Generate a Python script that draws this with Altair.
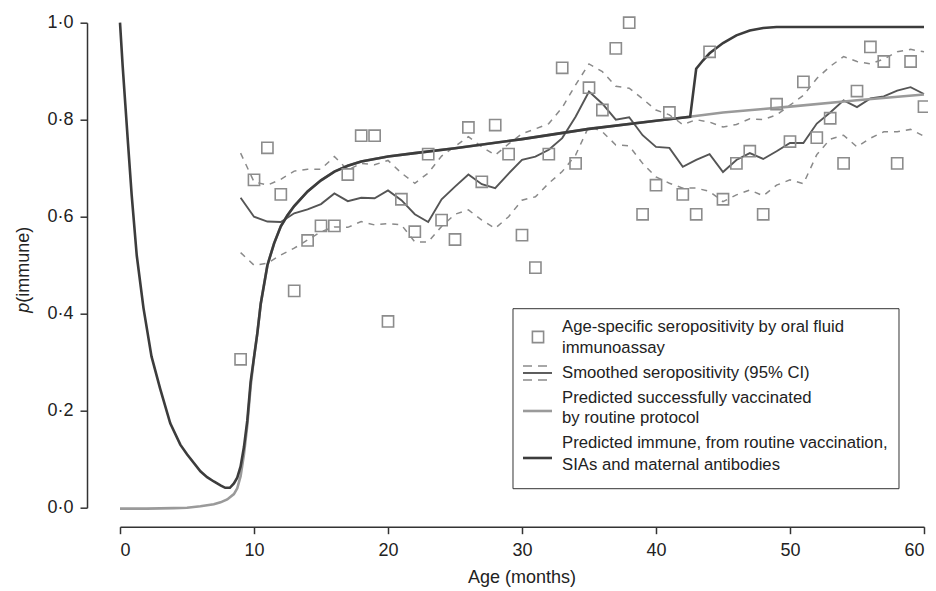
import altair as alt
import pandas as pd

# ---------------- data ----------------
ages = list(range(9, 61))
observed = [0.306, 0.676, 0.742, 0.646, 0.447, 0.551, 0.581, 0.581, 0.687, 0.767,
            0.767, 0.384, 0.636, 0.569, 0.729, 0.593, 0.553, 0.784, 0.672, 0.789,
            0.729, 0.562, 0.495, 0.729, 0.907, 0.710, 0.866, 0.820, 0.947, 1.000,
            0.605, 0.665, 0.815, 0.646, 0.605, 0.940, 0.636, 0.710, 0.735, 0.605,
            0.832, 0.755, 0.878, 0.763, 0.803, 0.710, 0.859, 0.950, 0.920, 0.710,
            0.920, 0.827]
smooth = [0.639, 0.600, 0.590, 0.589, 0.607, 0.615, 0.626, 0.648, 0.632, 0.639,
          0.638, 0.654, 0.634, 0.605, 0.589, 0.636, 0.662, 0.687, 0.667, 0.659,
          0.689, 0.717, 0.724, 0.738, 0.762, 0.806, 0.858, 0.833, 0.800, 0.805,
          0.768, 0.744, 0.742, 0.703, 0.717, 0.729, 0.692, 0.717, 0.731, 0.719,
          0.735, 0.752, 0.752, 0.792, 0.815, 0.840, 0.826, 0.844, 0.848, 0.860,
          0.867, 0.853]
ci_upper = [0.731, 0.672, 0.665, 0.677, 0.694, 0.698, 0.698, 0.724, 0.696, 0.710,
            0.707, 0.716, 0.690, 0.669, 0.690, 0.725, 0.745, 0.765, 0.744, 0.727,
            0.750, 0.771, 0.781, 0.792, 0.825, 0.872, 0.915, 0.899, 0.869, 0.865,
            0.843, 0.820, 0.810, 0.790, 0.800, 0.795, 0.785, 0.790, 0.802, 0.800,
            0.810, 0.830, 0.850, 0.885, 0.910, 0.930, 0.920, 0.915, 0.925, 0.940,
            0.945, 0.940]
ci_lower = [0.526, 0.500, 0.504, 0.521, 0.535, 0.552, 0.569, 0.579, 0.578, 0.590,
            0.583, 0.586, 0.583, 0.548, 0.548, 0.580, 0.605, 0.614, 0.593, 0.576,
            0.600, 0.634, 0.641, 0.669, 0.693, 0.727, 0.787, 0.775, 0.748, 0.746,
            0.710, 0.682, 0.669, 0.659, 0.659, 0.652, 0.631, 0.645, 0.655, 0.643,
            0.665, 0.676, 0.668, 0.728, 0.760, 0.768, 0.744, 0.762, 0.775, 0.775,
            0.780, 0.766]

vacc_age = [0, 2, 4, 5, 6, 7, 7.5, 8, 8.5, 8.75, 9.0, 9.25, 9.5, 9.75, 10.0, 10.25,
            10.5, 11.0, 11.5, 12.0, 12.5, 13.0, 14.0, 15.0, 16.0, 17.0, 18.0, 20.0,
            22.0, 25.0, 30.0, 35.0, 40.0, 42.5, 45.0, 48.0, 50.0, 55.0, 60.0]
vacc_p = [-0.002, -0.002, -0.001, 0.0, 0.003, 0.007, 0.011, 0.017, 0.028, 0.040,
          0.065, 0.11, 0.17, 0.25, 0.31, 0.36, 0.42, 0.50, 0.545, 0.58, 0.603, 0.622,
          0.652, 0.675, 0.693, 0.705, 0.714, 0.724, 0.731, 0.741, 0.760, 0.781,
          0.798, 0.806, 0.815, 0.822, 0.827, 0.840, 0.852]

immune_age = [0, 0.2, 0.4, 0.6, 0.87, 1.25, 1.75, 2.35, 3.0, 3.75, 4.5, 5.0, 6.0,
              6.5, 7.0, 7.5, 7.85, 8.2, 8.5, 8.75, 9.0, 9.25, 9.5, 9.75, 10.0, 10.25,
              10.5, 11.0, 11.5, 12.0, 12.5, 13.0, 14.0, 15.0, 16.0, 17.0, 18.0, 20.0,
              22.0, 25.0, 30.0, 35.0, 40.0, 42.55, 43.0, 43.5, 44.0, 45.0, 46.0, 47.0,
              48.0, 49.0, 50.0, 55.0, 60.0]
immune_p = [1.0, 0.91, 0.83, 0.75, 0.645, 0.52, 0.412, 0.312, 0.245, 0.174, 0.13,
            0.11, 0.075, 0.063, 0.054, 0.046, 0.041, 0.041, 0.05, 0.062, 0.085, 0.125,
            0.18, 0.26, 0.31, 0.36, 0.42, 0.50, 0.545, 0.58, 0.603, 0.622, 0.652,
            0.675, 0.693, 0.705, 0.714, 0.724, 0.731, 0.741, 0.760, 0.781, 0.798,
            0.806, 0.905, 0.922, 0.937, 0.958, 0.974, 0.984, 0.989, 0.991, 0.991,
            0.991, 0.991]

x_ticks = [0, 10, 20, 30, 40, 50, 60]
y_ticks = [0.0, 0.2, 0.4, 0.6, 0.8, 1.0]

legend_labels = [
    "Age-specific seropositivity by oral fluid",
    "immunoassay",
    "Smoothed seropositivity (95% CI)",
    "Predicted successfully vaccinated",
    "by routine protocol",
    "Predicted immune, from routine vaccination,",
    "SIAs and maternal antibodies",
]

# ---------------- tables ----------------
df_obs = pd.DataFrame({"age": ages, "p": observed})
df_smooth = pd.DataFrame({"age": ages, "p": smooth})
df_ci = pd.concat([
    pd.DataFrame({"age": ages, "p": ci_upper, "bound": "upper"}),
    pd.DataFrame({"age": ages, "p": ci_lower, "bound": "lower"}),
])
df_vacc = pd.DataFrame({"age": vacc_age, "p": vacc_p})
df_imm = pd.DataFrame({"age": immune_age, "p": immune_p})
one = pd.DataFrame({"a": [0]})

FONT = "Liberation Sans"
W, H = 804, 485

xenc = alt.X("age:Q", title="",
             scale=alt.Scale(domain=[0, 60], nice=False, zero=False),
             axis=alt.Axis(values=x_ticks, offset=19, grid=False, tickSize=7,
                           labelPadding=8, labelFontSize=18, labelFont=FONT,
                           labelColor="#222", domainColor="#333", tickColor="#333",
                           domainWidth=1.5, tickWidth=1.5))
yenc = alt.Y("p:Q", title="",
             scale=alt.Scale(domain=[0, 1], nice=False),
             axis=alt.Axis(values=y_ticks, offset=33, grid=False, tickSize=7,
                           labelPadding=7, labelFontSize=18, labelFont=FONT,
                           labelColor="#222", domainColor="#333", tickColor="#333",
                           domainWidth=1.5, tickWidth=1.5,
                           labelExpr="replace(format(datum.value, '.1f'), '.', '·')"))

ci = alt.Chart(df_ci).mark_line(color="#8a8a8a", strokeWidth=1.5,
                                strokeDash=[6, 6]).encode(x=xenc, y=yenc, detail="bound:N")
sm = alt.Chart(df_smooth).mark_line(color="#555555", strokeWidth=1.9).encode(x=xenc, y=yenc)
vac = alt.Chart(df_vacc).mark_line(color="#9a9a9a", strokeWidth=2.6).encode(x=xenc, y=yenc)
imm = alt.Chart(df_imm).mark_line(color="#3c3c3c", strokeWidth=2.6).encode(x=xenc, y=yenc)
pts = alt.Chart(df_obs).mark_point(shape="square", filled=False, size=125,
                                   color="#8c8c8c", strokeWidth=1.6,
                                   opacity=1).encode(x=xenc, y=yenc)

# ---------------- legend (drawn by hand, boxed) ----------------
box = alt.Chart(one).mark_rect(fill="white", stroke="#333", strokeWidth=1).encode(
    x=alt.value(393), x2=alt.value(779), y=alt.value(286), y2=alt.value(466))

leg_y = [304.3, 325.3, 350.3, 375.3, 395.3, 420.3, 442.3]
leg_texts = [
    alt.Chart(one).mark_text(align="left", baseline="middle", fontSize=16.7,
                             font=FONT, color="#222").encode(
        x=alt.value(442), y=alt.value(yy), text=alt.value(t))
    for t, yy in zip(legend_labels, leg_y)
]
sym_sq = alt.Chart(one).mark_point(shape="square", filled=False, size=125,
                                   color="#8c8c8c", strokeWidth=1.6, opacity=1).encode(
    x=alt.value(418), y=alt.value(314.3))
sym_ci1 = alt.Chart(one).mark_rule(color="#8a8a8a", strokeWidth=1.5, strokeDash=[9, 6]).encode(
    x=alt.value(403), x2=alt.value(432), y=alt.value(343.3))
sym_ci2 = alt.Chart(one).mark_rule(color="#8a8a8a", strokeWidth=1.5, strokeDash=[9, 6]).encode(
    x=alt.value(403), x2=alt.value(432), y=alt.value(357.3))
sym_sm = alt.Chart(one).mark_rule(color="#555555", strokeWidth=1.9).encode(
    x=alt.value(403), x2=alt.value(432), y=alt.value(350.3))
sym_vac = alt.Chart(one).mark_rule(color="#9a9a9a", strokeWidth=2.6).encode(
    x=alt.value(403), x2=alt.value(432), y=alt.value(388.3))
sym_imm = alt.Chart(one).mark_rule(color="#3c3c3c", strokeWidth=2.6).encode(
    x=alt.value(403), x2=alt.value(432), y=alt.value(435.3))

# ---------------- axis titles ----------------
xtitle = alt.Chart(one).mark_text(align="center", baseline="middle", fontSize=18,
                                  font=FONT, color="#222").encode(
    x=alt.value(W / 2), y=alt.value(555), text=alt.value("Age (months)"))
ytitle_a = alt.Chart(one).mark_text(align="left", baseline="middle", angle=270,
                                    fontSize=18, font=FONT, color="#222").encode(
    x=alt.value(-96), y=alt.value(280), text=alt.value("(immune)"))
ytitle_p = alt.Chart(one).mark_text(align="right", baseline="middle", angle=270,
                                    fontSize=18, font=FONT, fontStyle="italic",
                                    color="#222").encode(
    x=alt.value(-96), y=alt.value(280), text=alt.value("p"))

chart = alt.layer(
    ci, sm, vac, imm, pts,
    box, *leg_texts, sym_sq, sym_ci1, sym_ci2, sym_sm, sym_vac, sym_imm,
    xtitle, ytitle_a, ytitle_p,
).properties(
    width=W, height=H,
    autosize=alt.AutoSizeParams(type="none"),
    padding={"left": 112, "top": 14.7, "right": 4, "bottom": 81},
    background="white",
).configure_view(stroke=None)

chart.save("out.html", embed_options={"renderer": "svg", "actions": False})
